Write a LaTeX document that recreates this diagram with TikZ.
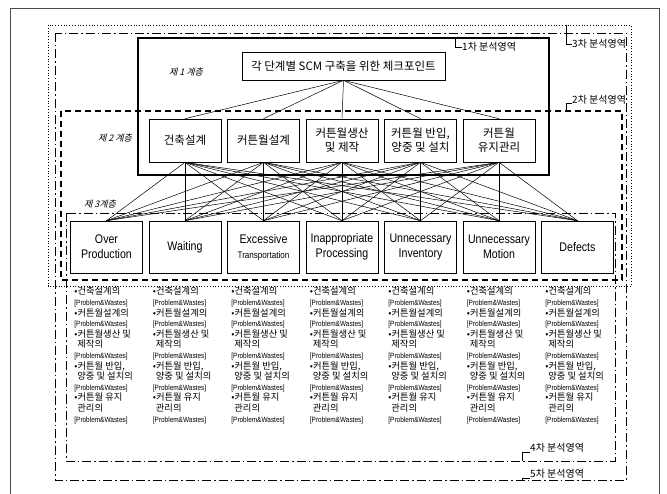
\documentclass[tikz,border=0pt]{standalone}
\usepackage{fontspec}
\setmainfont{Noto Sans CJK KR}
\newfontfamily\krfont{Noto Sans CJK KR}
\newfontfamily\kritfont[FakeSlant=0.25]{Noto Sans CJK KR}
\newfontfamily\enfont[FakeStretch=0.85]{Liberation Sans}
\newcommand\pwtag{{\enfont\fontsize{7.6}{10.6}\selectfont[Problem\&Wastes]}}
\newcommand\plisttext{%
•건축설계의\\ \pwtag\\
•커튼월설계의\\ \pwtag\\
•커튼월생산 및\\ \hspace*{3pt}제작의\\ \pwtag\\
•커튼월 반입,\\ \hspace*{3pt}양중 및 설치의\\ \pwtag\\
•커튼월 유지\\ \hspace*{3pt}관리의\\ \pwtag}
\tikzset{
  box/.style={draw, line width=0.6pt, minimum width=72pt, inner sep=1pt, align=center},
  topbox/.style={box, minimum width=203pt, minimum height=28pt, font=\krfont\fontsize{11.5}{13}\selectfont},
  lvtwo/.style={box, minimum height=43pt, font=\krfont\fontsize{11.5}{14}\selectfont},
  lvthree/.style={box, minimum height=52pt, font=\enfont\fontsize{12.5}{15}\selectfont},
  layer/.style={font=\kritfont\fontsize{9}{10}\selectfont, inner sep=0pt},
  region/.style={font=\krfont\fontsize{10}{12}\selectfont, anchor=west, inner sep=0pt},
  conn/.style={line width=0.5pt},
  dotframe/.style={dotted, line width=0.8pt},
  dashdotframe/.style={dash pattern=on 9pt off 3pt on 1.5pt off 3pt, line width=0.9pt},
  dashframe/.style={dash pattern=on 6pt off 4pt, line width=1.1pt},
  thickframe/.style={line width=2.4pt},
  plist/.style={anchor=north west, align=left, inner sep=0pt, font=\krfont\fontsize{9.3}{10.6}\selectfont},
  bracket/.style={line width=0.5pt},
}
\begin{document}
\begin{tikzpicture}[x=1pt,y=-1pt]
\useasboundingbox (0,0) rectangle (667,494);
% outer frame
\draw[line width=0.6pt, black!70] (10,494) -- (10,8) -- (659,8) -- (659,494);
% analysis region frames
\draw[dotframe] (48,25) rectangle (631,286);
\draw[dashdotframe] (55,33) rectangle (626,480);
\draw[thickframe] (138,38) rectangle (549,175);
\draw[dashframe] (61,111) rectangle (622,280);
\draw[dashdotframe] (66,213) rectangle (615,461);
% level 1
\node[topbox] (t) at (343.5,66) {각 단계별 SCM 구축을 위한 체크포인트};
% level 2
\node[lvtwo] (b1) at (185,140.5) {건축설계};
\node[lvtwo] (b2) at (263.5,140.5) {커튼월설계};
\node[lvtwo] (b3) at (342,140.5) {커튼월생산\\및 제작};
\node[lvtwo] (b4) at (420.5,140.5) {커튼월 반입,\\양중 및 설치};
\node[lvtwo] (b5) at (499,140.5) {커튼월\\유지관리};
% level 3
\node[lvthree] (c1) at (106.5,247) {Over\\Production};
\node[lvthree] (c2) at (185,247) {Waiting};
\node[lvthree] (c3) at (263.5,247) {Excessive\\{\fontsize{9.5}{12}\selectfont Transportation}};
\node[lvthree] (c4) at (342,247) {Inappropriate\\Processing};
\node[lvthree] (c5) at (420.5,247) {Unnecessary\\Inventory};
\node[lvthree] (c6) at (499,247) {Unnecessary\\Motion};
\node[lvthree] (c7) at (577.5,247) {Defects};
% connectors
\foreach \i in {1,...,5} \draw[conn] (t.south) -- (b\i.north);
\foreach \i in {1,...,5} \foreach \j in {1,...,7} \draw[conn] (b\i.south) -- (c\j.north);
% layer labels
\node[layer] (l1) at (186,72) {제 1 계층};
\node[layer] (l2) at (115,138) {제 2 계층};
\node[layer] (l3) at (100,204) {제 3계층};
% problem lists
\foreach \j in {1,...,7} \node[plist] (p\j) at ([xshift=4pt]c\j.south west |- 0,287) {\plisttext};
% region labels with brackets
\node[region] (r1) at (462,47) {1차 분석영역};
\coordinate (k1) at (455,38);
\draw[bracket] (k1) |- (r1.west);
\node[region] (r3) at (572,44) {3차 분석영역};
\coordinate (k3) at (566,25);
\draw[bracket] (k3) |- (r3.west);
\node[region] (r2) at (572,100) {2차 분석영역};
\coordinate (k2) at (566,111);
\draw[bracket] (k2) |- ([yshift=-3pt]r2.west);
\node[region] (r4) at (530,448) {4차 분석영역};
\coordinate (k4) at (522,461);
\draw[bracket] (k4) |- ([yshift=-4pt]r4.west);
\node[region] (r5) at (530,474) {5차 분석영역};
\coordinate (k5) at (522,480);
\draw[bracket] (k5) |- ([yshift=-4pt]r5.west);
\end{tikzpicture}
\end{document}
